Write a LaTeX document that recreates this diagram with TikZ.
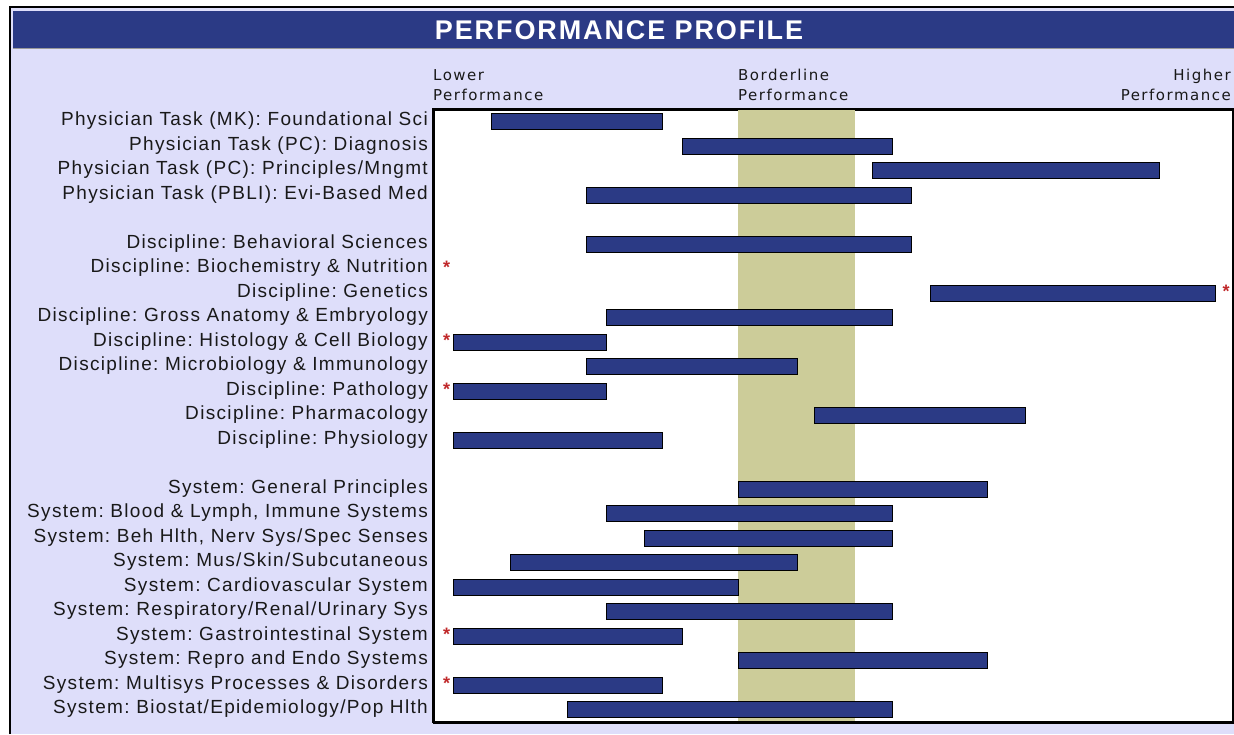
\documentclass[tikz,border=0pt]{standalone}
\usepackage{fontspec}
\setmainfont{Liberation Sans}
\newfontfamily\labfont[LetterSpace=7]{Liberation Sans}
\newfontfamily\titlefont[LetterSpace=7]{Liberation Sans}
\newfontfamily\axisfont[LetterSpace=10]{DejaVu Sans}
\definecolor{hdr}{HTML}{2B3A85}
\definecolor{lav}{HTML}{DEDEFA}
\definecolor{band}{HTML}{CCCC99}
\definecolor{barc}{HTML}{2B3A85}
\definecolor{star}{HTML}{C0282A}
\tikzset{
  rowlabel/.style={anchor=east, inner sep=0pt, font=\labfont\frenchspacing\fontsize{19}{20}\selectfont, text=black!90},
  barbox/.style={draw=black, line width=1.4pt, fill=barc},
  axislabel/.style={inner sep=0pt, font=\axisfont\fontsize{15}{20}\selectfont, align=left, text=black!90},
  starmark/.style={inner sep=0pt, text=star, font=\bfseries\fontsize{18}{18}\selectfont}
}
\begin{document}
\begin{tikzpicture}[x=1pt,y=-1pt]
\useasboundingbox (0,0) rectangle (1234,734);
\fill[white] (0,0) rectangle (1234,734);
\fill[lav] (10,7) rectangle (1234,734);
\draw[black, line width=1.5pt] (10,734) -- (10,7) -- (1234,7);
\fill[hdr] (13,11) rectangle (1234,48);
\draw[black!40, line width=0.8pt] (13,48.5) -- (1234,48.5);
\node (title) [text=white, font=\titlefont\bfseries\fontsize{27}{30}\selectfont, inner sep=0pt] at (619,30) {PERFORMANCE PROFILE};
% axis labels
\node (lower) [axislabel, anchor=south west] at (433,101) {Lower\\Performance};
\node (border) [axislabel, anchor=south west] at (738,101) {Borderline\\Performance};
\node (higher) [axislabel, anchor=south east, align=right] at (1231,101) {Higher\\Performance};
% plot area
\node (plot) [draw=black, line width=1.5pt, fill=white, minimum width=800pt, minimum height=613pt, anchor=north west, inner sep=0pt] at (433,109) {};
\fill[band] (738,110) rectangle (855,721);
\draw[black, line width=1.5pt] (433,109) rectangle (1233,722);
% rows
\foreach \i/\lab/\xa/\xb/\st in {
 0/{Physician Task (MK): Foundational Sci}/491/662/0,
 1/{Physician Task (PC): Diagnosis}/682/892/0,
 2/{Physician Task (PC): Principles/Mngmt}/872/1159/0,
 3/{Physician Task (PBLI): Evi-Based Med}/586/911/0,
 5/{Discipline: Behavioral Sciences}/586/911/0,
 6/{Discipline: Biochemistry \& Nutrition}/0/0/1,
 7/{Discipline: Genetics}/930/1215/2,
 8/{Discipline: Gross Anatomy \& Embryology}/606/892/0,
 9/{Discipline: Histology \& Cell Biology}/453/606/1,
 10/{Discipline: Microbiology \& Immunology}/586/797/0,
 11/{Discipline: Pathology}/453/606/1,
 12/{Discipline: Pharmacology}/814/1025/0,
 13/{Discipline: Physiology}/453/662/0,
 15/{System: General Principles}/738/987/0,
 16/{System: Blood \& Lymph, Immune Systems}/606/892/0,
 17/{System: Beh Hlth, Nerv Sys/Spec Senses}/644/892/0,
 18/{System: Mus/Skin/Subcutaneous}/510/797/0,
 19/{System: Cardiovascular System}/453/738/0,
 20/{System: Respiratory/Renal/Urinary Sys}/606/892/0,
 21/{System: Gastrointestinal System}/453/682/1,
 22/{System: Repro and Endo Systems}/738/987/0,
 23/{System: Multisys Processes \& Disorders}/453/662/1,
 24/{System: Biostat/Epidemiology/Pop Hlth}/567/892/0}{
  \pgfmathsetmacro{\yy}{121+24.5*\i}
  \node (lab\i) [rowlabel] at (428,\yy) {\lab};
  \ifnum\xb>0
    \node (bar\i) [barbox, anchor=north west, minimum width={\xb-\xa}, minimum height=16pt, inner sep=0pt] at (\xa,\yy-8) {};
  \fi
  \ifnum\st=1
    \node (st\i) [starmark] at (446.5,\yy-1) {*};
  \fi
  \ifnum\st=2
    \node (st\i) [starmark] at (1226,\yy-1) {*};
  \fi
}
\end{tikzpicture}
\end{document}
